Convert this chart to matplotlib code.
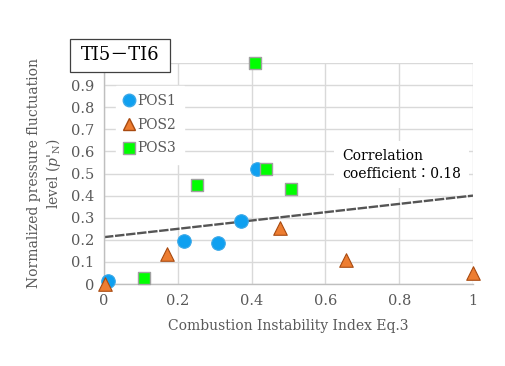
import matplotlib
matplotlib.use("Agg")
import matplotlib.pyplot as plt
from matplotlib.lines import Line2D
from matplotlib.patches import Rectangle

plt.rcParams['font.family'] = ['DejaVu Serif', 'Noto Sans CJK JP', 'DejaVu Sans']
plt.rcParams['mathtext.fontset'] = 'dejavuserif'

pos1_x = [0.011, 0.217, 0.309, 0.371, 0.415]
pos1_y = [0.014, 0.195, 0.185, 0.285, 0.52]
pos2_x = [0.003, 0.171, 0.477, 0.656, 1.0]
pos2_y = [0.0, 0.138, 0.253, 0.109, 0.05]
pos3_x = [0.108, 0.252, 0.44, 0.507, 0.41]
pos3_y = [0.027, 0.447, 0.52, 0.43, 1.0]
trend_slope = 0.188
trend_intercept = 0.212
corr_text = "Correlation\ncoefficient\uff1a0.18"
title_text = "TI5\uff0dTI6"
xticks = [0, 0.2, 0.4, 0.6, 0.8, 1]
xtick_labels = ["0", "0.2", "0.4", "0.6", "0.8", "1"]
yticks = [0, 0.1, 0.2, 0.3, 0.4, 0.5, 0.6, 0.7, 0.8, 0.9]
ytick_labels = ["0", "0.1", "0.2", "0.3", "0.4", "0.5", "0.6", "0.7", "0.8", "0.9"]

W, H = 506, 366
fig = plt.figure(figsize=(W/100, H/100), dpi=100)
ax = fig.add_axes([104/W, 1-284/H, (473-104)/W, (284-63)/H])
ax.set_xlim(0, 1)
ax.set_ylim(0, 1)
grey = '#595959'
ax.set_xticks(xticks)
ax.set_xticklabels(xtick_labels)
ax.set_yticks(yticks + [1.0])
ax.set_yticklabels(ytick_labels + [""])
ax.grid(True, color='#d9d9d9', lw=1)
ax.set_axisbelow(True)
for s in ['top', 'right']:
    ax.spines[s].set_visible(False)
for s in ['left', 'bottom']:
    ax.spines[s].set_color('#bfbfbf')
    ax.spines[s].set_linewidth(1)
ax.tick_params(length=0, colors=grey, labelsize=10.5, pad=7)

# trendline
tx = [0, 1]
ty = [trend_intercept + trend_slope*v for v in tx]
ax.plot(tx, ty, color='#555555', lw=1.7, ls=(0, (4, 0.7)), zorder=2)

ax.scatter(pos1_x, pos1_y, s=95, marker='o', color='#0fa0f0', edgecolors='#3aa8e8', lw=0.8, zorder=4, clip_on=False)
ax.scatter(pos2_x, pos2_y, s=95, marker='^', color='#ed7d31', edgecolors='#a84a10', lw=0.8, zorder=4, clip_on=False)
ax.scatter(pos3_x, pos3_y, s=85, marker='s', color='#00ff00', edgecolors='#a0a0a0', lw=1, zorder=4, clip_on=False)

# legend box
handles = [
    Line2D([], [], ls='none', marker='o', ms=9, mfc='#0fa0f0', mec='#3aa8e8'),
    Line2D([], [], ls='none', marker='^', ms=9, mfc='#ed7d31', mec='#a84a10'),
    Line2D([], [], ls='none', marker='s', ms=8, mfc='#00ff00', mec='#a0a0a0'),
]
leg = ax.legend(handles, ['POS1', 'POS2', 'POS3'], loc='upper left',
                bbox_to_anchor=(0.01, 0.935), frameon=True, fancybox=False,
                framealpha=1, edgecolor='white', handlelength=0.6,
                handletextpad=0.3, labelspacing=0.7, borderpad=0.6,
                prop={'size': 10}, borderaxespad=0.6)
for t in leg.get_texts():
    t.set_color(grey)

# correlation text box
ax.text(0.645, 0.612, corr_text, transform=ax.transData, fontsize=10,
        color='black', va='top', ha='left', linespacing=1.35,
        bbox=dict(boxstyle='square,pad=0.55', fc='white', ec='none'), zorder=5)

ax.set_xlabel("Combustion Instability Index Eq.3", color=grey, fontsize=10, labelpad=8)
ax.set_ylabel("Normalized pressure fluctuation\nlevel ($p$'$_{\\rm N}$)", color=grey, fontsize=10, labelpad=6)

# title box
fig.patches.append(Rectangle((70/W, 1-72/H), 100/W, 33/H, transform=fig.transFigure,
                             fc='white', ec='#404040', lw=0.9, zorder=10))
fig.text(120/W, 1-55.5/H, title_text, fontsize=13, color='black', ha='center', va='center', zorder=11)

fig.savefig('out.png', dpi=100)
